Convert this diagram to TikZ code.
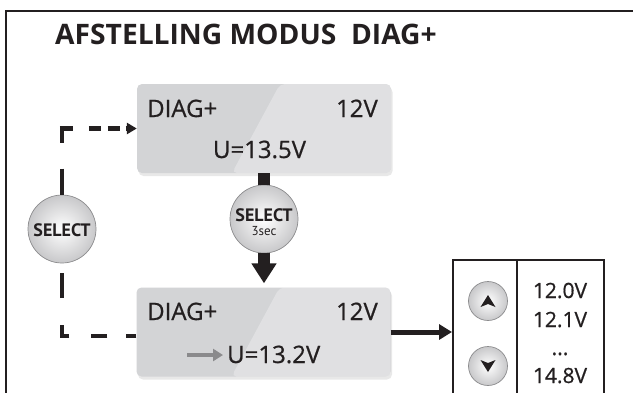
\documentclass[tikz,border=0pt]{standalone}
\usepackage{fontspec}
\setmainfont{Open Sans}
\newfontfamily\selfont{PT Sans}
\newfontfamily\lcdfont[FakeBold=0.7]{Open Sans}
\usetikzlibrary{arrows.meta,shadows,calc}
\definecolor{ink}{RGB}{35,31,32}
\definecolor{lcd}{RGB}{211,212,214}
\definecolor{btnedge}{RGB}{140,140,142}
\definecolor{btnout}{RGB}{200,200,202}
\definecolor{arrgray}{RGB}{138,138,140}
\begin{document}
\begin{tikzpicture}[x=1pt,y=-1pt,
  lcdbox/.style={rounded corners=5pt, fill=lcd, minimum width=254pt, minimum height=89pt, inner sep=0pt,
    drop shadow={opacity=0.18, shadow xshift=1.5pt, shadow yshift=-3pt},
    path picture={\fill[white,opacity=0.3] ($(path picture bounding box.north)+(16,0)$) -- (path picture bounding box.north east) -- (path picture bounding box.south east) -- ($(path picture bounding box.south)+(-32,0)$) -- cycle;}},
  lcdtxt/.style={inner sep=0pt, font=\lcdfont\fontsize{24}{24}\selectfont, text=ink},
  valtxt/.style={inner sep=0pt, font=\lcdfont\fontsize{21}{21}\selectfont, text=ink, anchor=base},
  selbtn/.style={circle, minimum size=68pt, inner sep=0pt, draw=btnedge, line width=0.7pt, inner color=white, outer color=btnout},
  smallbtn/.style={circle, minimum size=39pt, inner sep=0pt, draw=btnedge, line width=0.7pt, inner color=white, outer color=btnout},
  seltxt/.style={inner sep=0pt, font=\selfont\bfseries\fontsize{18}{18}\selectfont, text=ink, anchor=base},
  dashline/.style={ink, line width=4.5pt},
]
\useasboundingbox (0,0) rectangle (633,392);
\clip (0,0) rectangle (633,392);
\fill[white] (0,0) rectangle (633,392);

% frame
\draw[ink, line width=2.5pt] (6,400) -- (6,11) -- (640,11);

% title
\node[inner sep=0pt, anchor=base west, font=\bfseries\fontsize{28.2}{28.2}\selectfont, text=ink] (title) at (55,44) {AFSTELLING MODUS\ \ DIAG+};

% boxes
\node[lcdbox] (b1) at (264,128.5) {};
\node[lcdtxt, anchor=base west] (b1l) at (147,117) {DIAG+};
\node[lcdtxt, anchor=base east] (b1r) at (378,117) {12V};
\node[lcdtxt, anchor=base] (b1u) at (259.5,158) {U=13.5V};

\node[lcdbox] (b2) at (263.5,332) {};
\node[lcdtxt, anchor=base west] (b2l) at (147,320) {DIAG+};
\node[lcdtxt, anchor=base east] (b2r) at (378,320) {12V};
\node[lcdtxt, anchor=base west] (b2u) at (227,363) {U=13.2V};
\coordinate (ga1) at (187,355);
\coordinate (ga2) at (223,355);
\draw[arrgray, line width=4pt, -{Triangle[length=10pt,width=12pt]}] (ga1) -- (ga2);

% select buttons
\node[selbtn] (s1) at (62,229) {};
\node[seltxt] (s1t) at (62,236) {SELECT};
\node[selbtn] (s2) at (264,219) {};
\node[seltxt] (s2t) at (264,221) {SELECT};
\node[inner sep=0pt, anchor=base, font=\selfont\fontsize{13}{13}\selectfont, text=ink] (s2s) at (264,235) {3sec};

% thick connectors
\draw[ink, line width=12pt] (b1.south -| s2.north) -- (s2.north);
\draw[ink, line width=12pt, -{Triangle[length=20pt,width=24pt]}, shorten >=4pt] (s2.south) -- (s2.south |- b2.north);

% dashed connectors
\coordinate (c1) at (s1.north |- b1.west);
\coordinate (c2) at (62,336);
\draw[dashline, dash pattern=on 26pt off 26pt, dash phase=12pt] (c1) -- (s1.north);
\draw[dashline, dash pattern=on 13pt off 16pt on 12pt off 7pt on 12pt off 6pt on 30pt, -{Triangle[length=10pt,width=11pt]}] ([xshift=-2.25pt]c1) -- (b1.west);
\draw[dashline, dash pattern=on 11pt off 27pt on 25pt off 20pt] (c2) -- (s1.south);
\draw[dashline, dash pattern=on 10pt off 19pt on 16pt off 22pt on 20pt] (c2 -| b2.west) -- ([xshift=-2.25pt]c2);

% right box
\node[draw=ink, line width=2pt, minimum width=151pt, minimum height=150pt, inner sep=0pt] (rb) at (528.5,335) {};
\draw[ink, line width=1.5pt] ($(rb.north west)+(65,0)$) -- ($(rb.south west)+(65,0)$);
\draw[ink, line width=5pt, -{Triangle[length=13pt,width=15pt]}] (b2.east) -- (b2.east -| rb.west);

\node[smallbtn] (up) at (488,301) {};
\node[smallbtn] (dn) at (488,366) {};
\fill[ink] ($(up)+(0,-6)$) -- ++(7.5,12) -- ++(-7.5,-3) -- ++(-7.5,3) -- cycle;
\fill[ink] ($(dn)+(0,6)$) -- ++(7.5,-12) -- ++(-7.5,3) -- ++(-7.5,-3) -- cycle;

\node[valtxt] (v1) at (560,298) {12.0V};
\node[valtxt] (v2) at (560,327) {12.1V};
\node[valtxt] (v3) at (560,355) {...};
\node[valtxt] (v4) at (560,383) {14.8V};
\end{tikzpicture}
\end{document}
